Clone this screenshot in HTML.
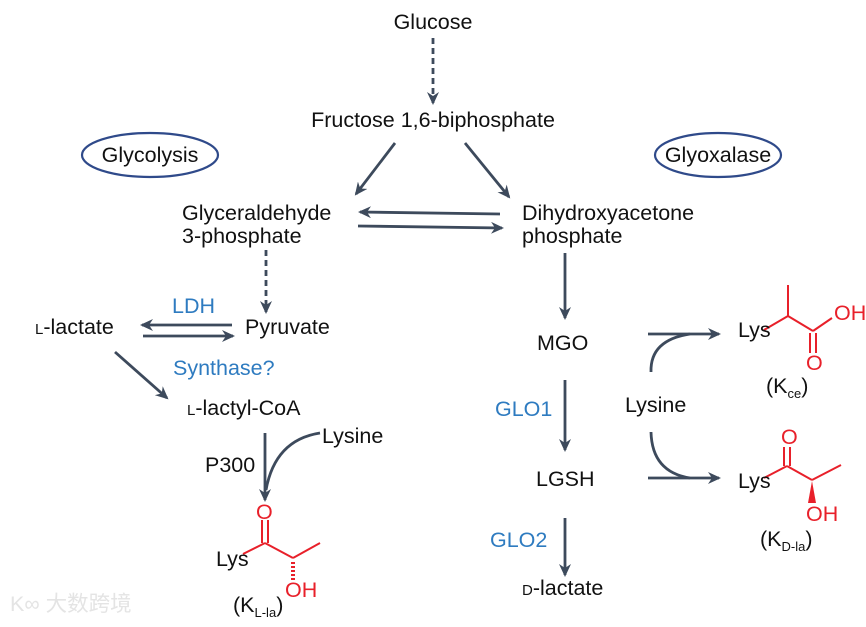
<!DOCTYPE html>
<html><head><meta charset="utf-8"><style>
html,body{margin:0;padding:0;background:#fff;}
svg{display:block;}
text{font-family:"Liberation Sans","Noto Sans CJK SC",sans-serif;font-size:21.5px;fill:#111;}
.b{fill:#2e7bc0;}
.r{fill:#e8202a;}
.sc{font-size:15px;}
</style></head><body>
<svg width="866" height="627" viewBox="0 0 866 627" xmlns="http://www.w3.org/2000/svg">
<defs>
<marker id="ah" markerWidth="13" markerHeight="12" refX="11" refY="6" orient="auto" markerUnits="userSpaceOnUse">
<path d="M0,0 L13,6 L0,12 L4,6 Z" fill="#3d4a5c"/></marker>
</defs>
<g stroke="#3d4a5c" stroke-width="2.8" fill="none" marker-end="url(#ah)">
<line x1="433" y1="38" x2="433" y2="103" stroke-dasharray="6,4"/>
<line x1="395" y1="143" x2="356" y2="194"/>
<line x1="465" y1="143" x2="509" y2="197"/>
<line x1="500" y1="214" x2="360" y2="212"/>
<line x1="358" y1="226" x2="502" y2="228"/>
<line x1="266" y1="250" x2="266" y2="312" stroke-dasharray="6,4"/>
<line x1="232" y1="325" x2="142" y2="325"/>
<line x1="143" y1="336" x2="233" y2="336"/>
<line x1="115" y1="352" x2="167" y2="398"/>
<line x1="265" y1="433" x2="265" y2="500"/>
<line x1="565" y1="253" x2="565" y2="318"/>
<line x1="565" y1="380" x2="565" y2="450"/>
<line x1="565" y1="518" x2="565" y2="575"/>
<line x1="648" y1="334" x2="719" y2="334"/>
<line x1="648" y1="478" x2="719" y2="478"/>
</g>
<g stroke="#3d4a5c" stroke-width="2.8" fill="none">
<path d="M320,433 Q275,440 266,490"/>
<path d="M651,372 Q650,340 690,334"/>
<path d="M651,432 Q652,472 690,478"/>
</g>
<ellipse cx="150" cy="155" rx="68" ry="22" fill="none" stroke="#2f4a8a" stroke-width="2.2"/>
<ellipse cx="718" cy="155" rx="63" ry="22" fill="none" stroke="#2f4a8a" stroke-width="2.2"/>
<text x="150" y="162" text-anchor="middle" font-size="19">Glycolysis</text>
<text x="718" y="162" text-anchor="middle" font-size="19">Glyoxalase</text>
<text x="433" y="29" text-anchor="middle">Glucose</text>
<text x="433" y="127" text-anchor="middle">Fructose 1,6-biphosphate</text>
<text x="182" y="220">Glyceraldehyde</text>
<text x="182" y="243">3-phosphate</text>
<text x="522" y="220">Dihydroxyacetone</text>
<text x="522" y="243">phosphate</text>
<text x="172" y="313" class="b" font-size="19">LDH</text>
<text x="245" y="334" font-size="20">Pyruvate</text>
<text x="35" y="334" font-size="20"><tspan class="sc">L</tspan>-lactate</text>
<text x="173" y="375" class="b" font-size="19">Synthase?</text>
<text x="187" y="415" font-size="20"><tspan class="sc">L</tspan>-lactyl-CoA</text>
<text x="322" y="443" font-size="20">Lysine</text>
<text x="205" y="472" font-size="20">P300</text>
<text x="537" y="350" font-size="20">MGO</text>
<text x="495" y="416" class="b" font-size="19">GLO1</text>
<text x="536" y="486" font-size="20">LGSH</text>
<text x="490" y="547" class="b" font-size="19">GLO2</text>
<text x="522" y="595" font-size="20"><tspan class="sc">D</tspan>-lactate</text>
<text x="625" y="412" font-size="20">Lysine</text>
<!-- K L-la -->
<g stroke="#e8202a" stroke-width="2" fill="none">
<line x1="262" y1="520" x2="262" y2="543"/><line x1="268" y1="520" x2="268" y2="543"/>
<line x1="243" y1="554" x2="265" y2="543"/>
<line x1="265" y1="543" x2="293" y2="558"/>
<line x1="293" y1="558" x2="320" y2="543"/>
<line x1="293" y1="562" x2="293" y2="580" stroke-dasharray="2,2" stroke-width="4"/>
</g>
<text x="256" y="519" class="r" font-size="18">O</text>
<text x="216" y="566" font-size="16">Lys</text>
<text x="285" y="597" class="r" font-size="17">OH</text>
<text x="233" y="612" font-size="20">(K<tspan font-size="13" dy="5">L-la</tspan><tspan dy="-5">)</tspan></text>
<!-- K ce -->
<g stroke="#e8202a" stroke-width="2" fill="none">
<line x1="764" y1="330" x2="788" y2="316"/>
<line x1="788" y1="316" x2="788" y2="285"/>
<line x1="788" y1="316" x2="813" y2="331"/>
<line x1="813" y1="331" x2="832" y2="318"/>
<line x1="810" y1="333" x2="810" y2="353"/><line x1="816" y1="333" x2="816" y2="353"/>
</g>
<text x="738" y="337" font-size="16">Lys</text>
<text x="834" y="320" class="r" font-size="18">OH</text>
<text x="806" y="370" class="r" font-size="18">O</text>
<text x="766" y="393" font-size="20">(K<tspan font-size="13" dy="5">ce</tspan><tspan dy="-5">)</tspan></text>
<!-- K D-la -->
<g stroke="#e8202a" stroke-width="2" fill="none">
<line x1="784" y1="447" x2="784" y2="466"/><line x1="790" y1="447" x2="790" y2="466"/>
<line x1="764" y1="478" x2="787" y2="466"/>
<line x1="787" y1="466" x2="812" y2="480"/>
<line x1="812" y1="480" x2="841" y2="465"/>
</g>
<path d="M812,481 L808,503 L816,503 Z" fill="#e8202a"/>
<text x="781" y="444" class="r" font-size="18">O</text>
<text x="738" y="488" font-size="16">Lys</text>
<text x="806" y="521" class="r" font-size="17">OH</text>
<text x="760" y="546" font-size="20">(K<tspan font-size="13" dy="5">D-la</tspan><tspan dy="-5">)</tspan></text>
<text x="10" y="611" font-size="13" style="fill:#e4e4e4">K∞ 大数跨境</text>
</svg>
</body></html>
